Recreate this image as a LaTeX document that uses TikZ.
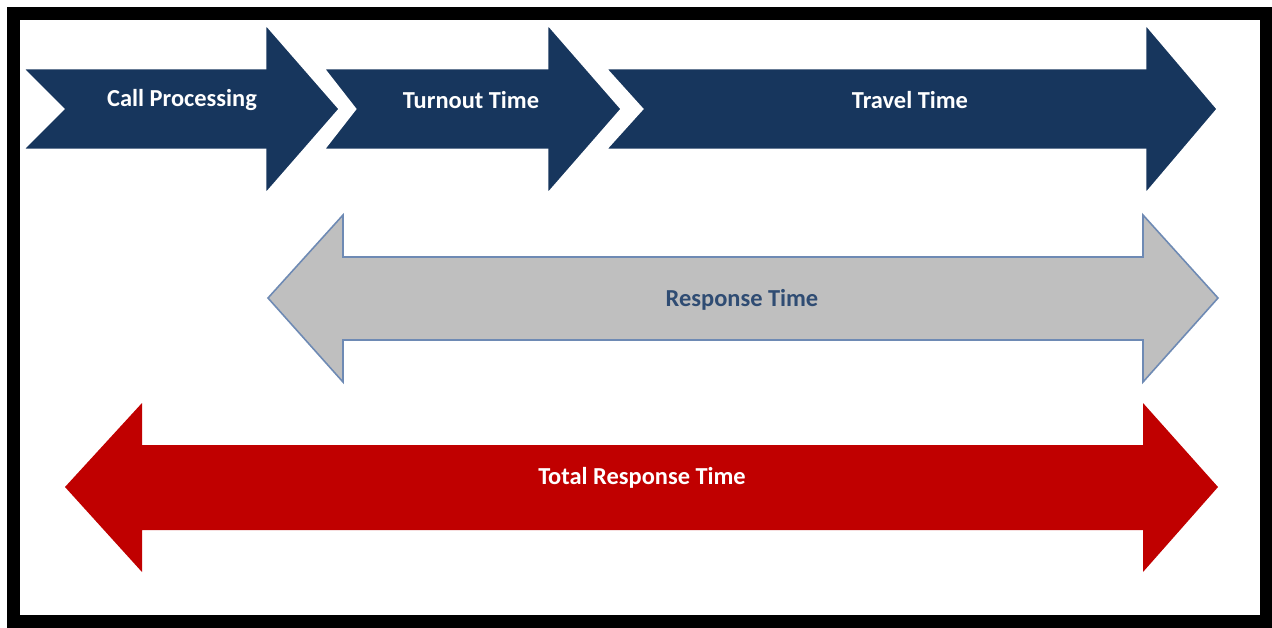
\documentclass[tikz,border=0pt]{standalone}
\usepackage{fontspec}
\setmainfont{Carlito}
\definecolor{navy}{RGB}{23,54,93}
\definecolor{firered}{RGB}{192,0,0}
\definecolor{greyfill}{RGB}{191,191,191}
\definecolor{greyline}{RGB}{110,138,180}
\definecolor{resptext}{RGB}{47,76,115}
\tikzset{
    stage/.style={fill=navy, draw=white, line width=1.5pt, line join=miter},
    lbl/.style={font=\fontsize{13.9}{16}\selectfont\bfseries, text=white, inner sep=0pt}
}
\begin{document}
\begin{tikzpicture}[x=0.02cm, y=-0.02cm]
\useasboundingbox (0,0) rectangle (1272,627);
\fill[white] (0,0) rectangle (1272,627);
% the three stages
\draw[stage](22,68)--(265,68)--(265,23)--(340,109)--(265,195)--(265,150)--(22,150)--(63,109)--cycle;
\draw[stage](323,68)--(547,68)--(547,23)--(622,109)--(547,195)--(547,150)--(323,150)--(355,109)--cycle;
\draw[stage](605,68)--(1145,68)--(1145,23)--(1218,109)--(1145,195)--(1145,150)--(605,150)--(642,109)--cycle;
\node[lbl] (call) at (182,100) {Call Processing};
\node[lbl] (turnout) at (471,100) {Turnout Time};
\node[lbl] (travel) at (910,100) {Travel Time};
% response time
\draw[fill=greyfill, draw=greyline, line width=0.9pt](268,298)--(343,215)--(343,257)--(1143,257)--(1143,215)--(1218,298)--(1143,382)--(1143,340)--(343,340)--(343,382)--cycle;
\node[lbl, text=resptext] (resp) at (742,300) {Response Time};
% total response time
\fill[firered](65,487)--(142,403)--(142,445)--(1143,445)--(1143,403)--(1218,487)--(1143,572)--(1143,530)--(142,530)--(142,572)--cycle;
\node[lbl] (total) at (642,478) {Total Response Time};
\draw[line width=13*0.02cm](13.5,13.5) rectangle (1266.5,621);
\end{tikzpicture}
\end{document}
